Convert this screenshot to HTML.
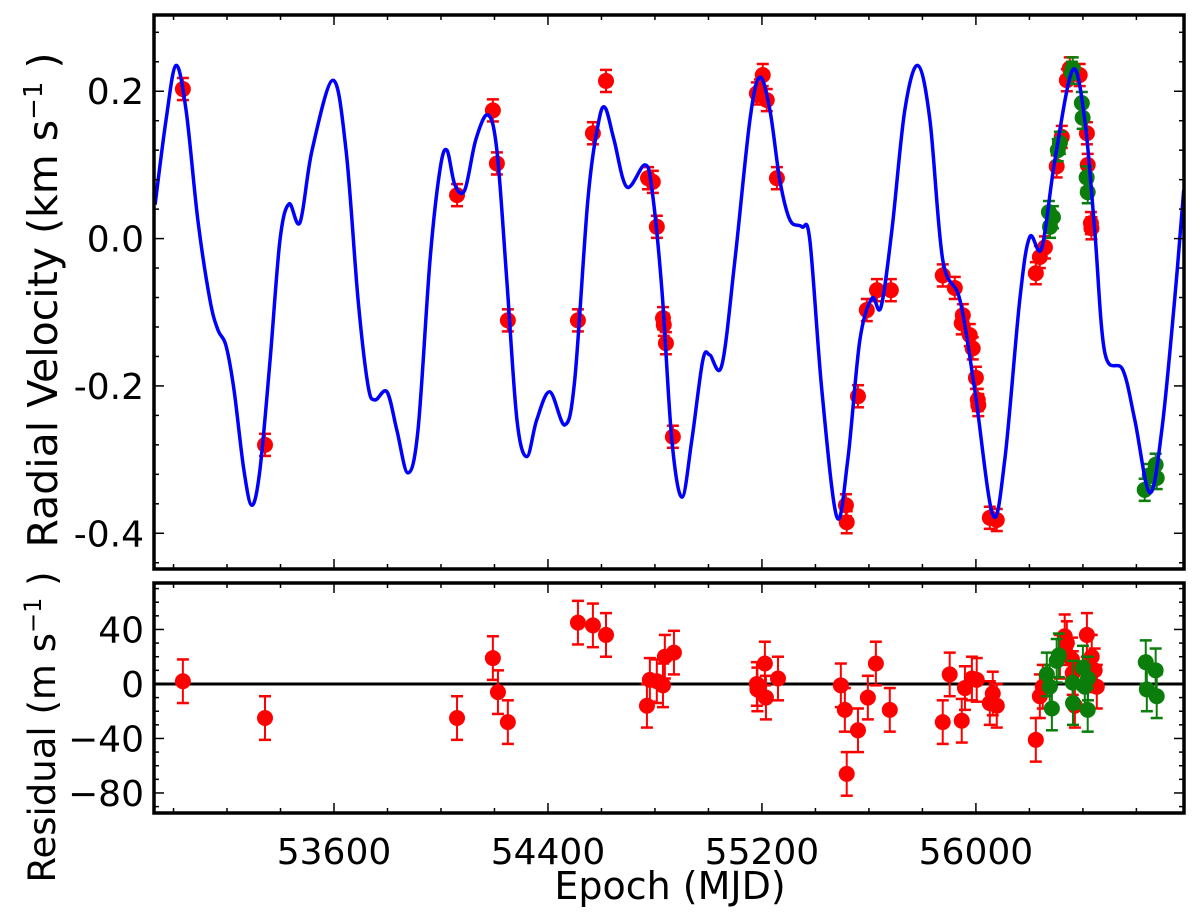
<!DOCTYPE html>
<html><head><meta charset="utf-8">
<style>
html,body{margin:0;padding:0;background:#fff;}
svg{display:block;font-family:"DejaVu Sans","Liberation Sans",sans-serif;}
</style></head>
<body>
<svg id="chart" width="1200" height="923" viewBox="0 0 1200 923" xmlns="http://www.w3.org/2000/svg">
<rect x="0" y="0" width="1200" height="923" fill="#fff"/>
<g id="topPanel"></g>
<g id="botPanel"></g>
<text transform="translate(57,300) rotate(-90)" text-anchor="middle" font-size="41">Radial Velocity (km s<tspan dy="-15" font-size="26">−1</tspan><tspan dy="15"> )</tspan></text>
<text transform="translate(55,727) rotate(-90)" text-anchor="middle" font-size="37">Residual (m s<tspan dy="-14" font-size="24">−1</tspan><tspan dy="14"> )</tspan></text>
<text x="670" y="899" text-anchor="middle" font-size="38">Epoch (MJD)</text>
</svg>
<script>
// ---- data ----
const xTicks = [53600, 54400, 55200, 56000];
const rvTicks = [0.2, 0.0, -0.2, -0.4];
const rvTickLabels = ["0.2", "0.0", "-0.2", "-0.4"];
const resTicks = [40, 0, -40, -80];
const resTickLabels = ["40", "0", "\u221240", "\u221280"];

const modelT = [52931,52972,53009,53047,53091,53136,53166,53196,53226,53263,53293,53323,53361,53398,53432,53473,53518,53596,53645,53690,53727,53753,53798,53835,53876,53914,53959,53996,54022,54052,54089,54130,54175,54209,54246,54284,54321,54358,54407,54463,54500,54549,54587,54613,54647,54695,54762,54789,54826,54863,54901,54938,54979,55005,55050,55099,55155,55192,55230,55267,55305,55349,55379,55424,55480,55521,55566,55611,55645,55686,55734,55783,55828,55876,55940,55996,56063,56108,56164,56201,56246,56295,56362,56407,56444,56482,56549,56594,56650,56695,56743,56777];
const modelV = [0.046,0.161,0.235,0.174,0.025,-0.083,-0.124,-0.145,-0.205,-0.314,-0.362,-0.314,-0.165,-0.002,0.047,0.022,0.120,0.215,0.120,-0.083,-0.199,-0.219,-0.208,-0.260,-0.318,-0.260,-0.029,0.093,0.120,0.073,0.066,0.134,0.168,0.120,-0.056,-0.246,-0.296,-0.246,-0.208,-0.253,-0.192,0.052,0.154,0.178,0.134,0.070,0.100,0.066,-0.070,-0.273,-0.351,-0.273,-0.165,-0.158,-0.172,-0.029,0.161,0.219,0.174,0.079,0.025,0.016,-0.002,-0.206,-0.378,-0.300,-0.138,-0.081,-0.093,0.012,0.174,0.235,0.161,-0.029,-0.083,-0.206,-0.375,-0.300,-0.083,0.002,-0.013,0.106,0.229,0.161,0.012,-0.155,-0.178,-0.246,-0.345,-0.260,-0.083,0.066];

const redT = [53035,53342,54060,54194,54209,54250,54512,54568,54617,54774,54792,54807,54830,54833,54841,54867,55181,55192,55203,55218,55256,55514,55517,55559,55592,55630,55682,55876,55921,55947,55951,55977,55988,56000,56007,56009,56052,56078,56224,56239,56258,56302,56321,56340,56351,56388,56415,56418,56430,56432];
const redV = [0.203,-0.280,0.059,0.174,0.102,-0.111,-0.111,0.143,0.214,0.082,0.077,0.016,-0.108,-0.117,-0.142,-0.269,0.197,0.201,0.222,0.188,0.082,-0.362,-0.385,-0.214,-0.097,-0.070,-0.070,-0.050,-0.067,-0.115,-0.104,-0.131,-0.149,-0.189,-0.219,-0.226,-0.379,-0.382,-0.047,-0.025,-0.012,0.098,0.138,0.215,0.231,0.222,0.143,0.100,0.021,0.014];
const greenT = [56273,56277,56288,56306,56314,56359,56362,56396,56399,56414,56418,56631,56650,56672,56676];
const greenV = [0.036,0.016,0.029,0.120,0.130,0.225,0.231,0.184,0.164,0.083,0.063,-0.341,-0.321,-0.307,-0.325];
const rvErr = 0.015;

const redResT = [53035,53342,54060,54194,54213,54250,54512,54568,54617,54770,54781,54807,54830,54837,54871,55181,55183,55211,55215,55260,55495,55510,55517,55559,55596,55626,55678,55876,55902,55947,55959,55985,56003,56052,56063,56078,56224,56239,56250,56314,56332,56340,56359,56362,56370,56415,56433,56444,56452];
const redRes = [2,-25,-25,19,-6,-28,45,43,36,-16,3,2,-1,20,23,0,-4,15,-10,4,-1,-19,-66,-34,-10,15,-19,-28,7,-27,-3,4,3,-14,-7,-16,-41,-9,-2,20,35,30,18,8,-16,36,20,10,-2];
const greenResT = [56265,56276,56284,56302,56310,56362,56363,56400,56407,56418,56419,56635,56672,56639,56676];
const greenRes = [7,-2,-18,17,21,1,-14,12,-2,-19,4,16,10,-4,-9];
const resErr = 16;

// ---- axes ----
const X0 = 154, X1 = 1184;
const tMin = 52927, tMax = 56778;
const xs = t => X0 + (t - tMin) / (tMax - tMin) * (X1 - X0);
const TY0 = 15, TY1 = 569, vMax = 0.3035, vMin = -0.4485;
const ys = v => TY0 + (vMax - v) / (vMax - vMin) * (TY1 - TY0);
const BY0 = 583, BY1 = 813, rMax = 74.1, rMin = -94.7;
const yr = r => BY0 + (rMax - r) / (rMax - rMin) * (BY1 - BY0);

const NS = "http://www.w3.org/2000/svg";
function mk(parent, tag, attrs) {
  const e = document.createElementNS(NS, tag);
  for (const k in attrs) e.setAttribute(k, attrs[k]);
  parent.appendChild(e);
  return e;
}
const topG = document.getElementById("topPanel");
const botG = document.getElementById("botPanel");

function frameAndTicks(g, y0, y1, yTickVals, yMinorStep, yScale, yLo, yHi, labels, showXLabels) {
  const ticks = mk(g, "g", {stroke: "#000", "stroke-width": 1.5});
  
  
  for (let t = 52800; t <= tMax; t += 200) {
    if (t < tMin) continue;
    const x = xs(t);
    const major = xTicks.indexOf(t) >= 0;
    const L = major ? 10 : 5;
    mk(ticks, "line", {x1: x, x2: x, y1: y1, y2: y1 - L});
    mk(ticks, "line", {x1: x, x2: x, y1: y0, y2: y0 + L});
  }
  const kStart = Math.ceil(yLo / yMinorStep - 1e-9), kEnd = Math.floor(yHi / yMinorStep + 1e-9);
  for (let k = kStart; k <= kEnd; k++) {
    const v = k * yMinorStep;
    const y = yScale(v);
    const major = yTickVals.some(m => Math.abs(m - v) < yMinorStep / 10);
    const L = major ? 10 : 5;
    mk(ticks, "line", {x1: X0, x2: X0 + L, y1: y, y2: y});
    mk(ticks, "line", {x1: X1, x2: X1 - L, y1: y, y2: y});
  }
  yTickVals.forEach((v, i) => {
    const tx = mk(g, "text", {x: X0 - 10, y: yScale(v) + 13, "text-anchor": "end", "font-size": 36});
    tx.textContent = labels[i];
    
    
  });
  if (showXLabels) {
    xTicks.forEach(t => {
      const tx = mk(g, "text", {x: xs(t), y: 864, "text-anchor": "middle", "font-size": 36});
      tx.textContent = String(t);
      
      
    });
  }
}

function points(g, T, V, err, scale, color, name) {
  const grp = mk(g, "g", {});
  
  
  T.forEach((t, i) => {
    const x = xs(t), y = scale(V[i]);
    const ya = scale(V[i] + err), yb = scale(V[i] - err);
    mk(grp, "line", {x1: x, x2: x, y1: ya, y2: yb, stroke: color, "stroke-width": 2});
    mk(grp, "line", {x1: x - 6, x2: x + 6, y1: ya, y2: ya, stroke: color, "stroke-width": 2.5});
    mk(grp, "line", {x1: x - 6, x2: x + 6, y1: yb, y2: yb, stroke: color, "stroke-width": 2.5});
    const c = mk(grp, "circle", {cx: x, cy: y, r: 8, fill: color});
    
    
  });
}

const clipDefs = mk(document.getElementById("chart"), "defs", {});
const cp = mk(clipDefs, "clipPath", {id: "clipTop"});
mk(cp, "rect", {x: X0, y: TY0, width: X1 - X0, height: TY1 - TY0});

let d = "";
const P = modelT.map((t, i) => [xs(t), ys(modelV[i])]);
d += "M" + P[0][0] + "," + P[0][1];
for (let i = 0; i < P.length - 1; i++) {
  const p0 = P[Math.max(0, i - 1)], p1 = P[i], p2 = P[i + 1], p3 = P[Math.min(P.length - 1, i + 2)];
  const c1x = p1[0] + (p2[0] - p0[0]) / 6, c1y = p1[1] + (p2[1] - p0[1]) / 6;
  const c2x = p2[0] - (p3[0] - p1[0]) / 6, c2y = p2[1] - (p3[1] - p1[1]) / 6;
  d += " C" + c1x + "," + c1y + " " + c2x + "," + c2y + " " + p2[0] + "," + p2[1];
}
points(topG, redT, redV, rvErr, ys, "#ff0000", "red-rv-points");
points(topG, greenT, greenV, rvErr, ys, "#0a7d0a", "green-rv-points");
const model = mk(topG, "path", {d: d, fill: "none", stroke: "#0000ff", "stroke-width": 3.5, "clip-path": "url(#clipTop)"});


frameAndTicks(topG, TY0, TY1, rvTicks, 0.04, ys, vMin, vMax, rvTickLabels, false);
const f1 = mk(topG, "rect", {x: X0, y: TY0, width: X1 - X0, height: TY1 - TY0, fill: "none", stroke: "#000", "stroke-width": 3.5});



const zl = mk(botG, "line", {x1: X0, x2: X1, y1: yr(0), y2: yr(0), stroke: "#000", "stroke-width": 3});


points(botG, redResT, redRes, resErr, yr, "#ff0000", "red-residual-points");
points(botG, greenResT, greenRes, resErr, yr, "#0a7d0a", "green-residual-points");
frameAndTicks(botG, BY0, BY1, resTicks, 10, yr, rMin, rMax, resTickLabels, true);
const f2 = mk(botG, "rect", {x: X0, y: BY0, width: X1 - X0, height: BY1 - BY0, fill: "none", stroke: "#000", "stroke-width": 3.5});


</script>
</body></html>
